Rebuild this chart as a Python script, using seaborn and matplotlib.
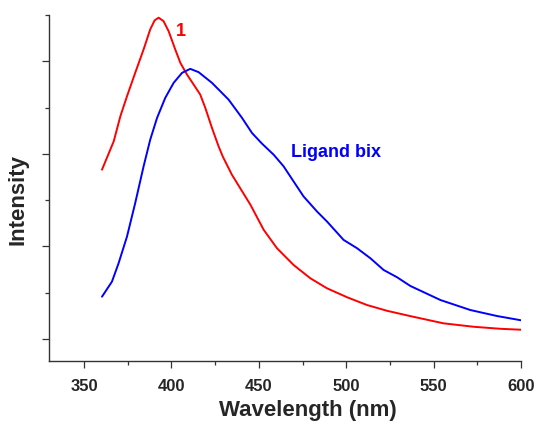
import numpy as np
import pandas as pd
import matplotlib
matplotlib.use("Agg")
import matplotlib.pyplot as plt
from matplotlib.ticker import MultipleLocator, NullFormatter
import seaborn as sns

# Emission spectra (arbitrary intensity units)
wl_complex = [360.3, 367.0, 370.8, 374.6, 379.3, 384.1, 387.9, 390.4, 392.7, 395.5,
              398.4, 402.2, 405.1, 408.9, 412.7, 416.5, 419.4, 423.2, 427.0, 429.4,
              434.6, 445.2, 452.8, 460.4, 469.9, 479.5, 489.0, 500.5, 511.9,
              523.3, 536.7, 555.7, 572.9, 588.2, 600.0]
int_complex = [1.828, 2.134, 2.405, 2.622, 2.875, 3.128, 3.345, 3.442, 3.471, 3.434,
               3.326, 3.128, 2.984, 2.857, 2.749, 2.640, 2.496, 2.280, 2.080, 1.970,
               1.774, 1.449, 1.178, 0.979, 0.798, 0.654, 0.546, 0.449, 0.365,
               0.303, 0.245, 0.167, 0.130, 0.108, 0.098]

wl_ligand = [360.3, 366.0, 369.8, 374.6, 379.3, 384.1, 387.9, 391.8, 396.5, 401.3,
             406.1, 410.8, 415.6, 423.2, 432.7, 440.4, 446.1, 451.8, 458.5, 464.2,
             469.9, 475.6, 483.3, 489.0, 498.5, 506.2, 513.8, 521.4, 529.1, 536.7,
             553.9, 571.0, 586.3, 600.0]
int_ligand = [0.455, 0.618, 0.817, 1.105, 1.467, 1.864, 2.153, 2.388, 2.605, 2.767,
              2.875, 2.918, 2.882, 2.767, 2.586, 2.388, 2.225, 2.110, 1.990, 1.864,
              1.701, 1.539, 1.376, 1.268, 1.069, 0.979, 0.871, 0.744, 0.665, 0.571,
              0.419, 0.311, 0.246, 0.200]

series_names = ["1", "Ligand bix"]
series_colors = ["#ff0000", "#0000ff"]
x_ticks = [350, 400, 450, 500, 550, 600]

df = pd.concat([
    pd.DataFrame({"Wavelength": wl_complex, "Intensity": int_complex, "sample": series_names[0]}),
    pd.DataFrame({"Wavelength": wl_ligand, "Intensity": int_ligand, "sample": series_names[1]}),
], ignore_index=True)

sns.set_style("ticks")
plt.rcParams["font.family"] = ["Liberation Sans", "DejaVu Sans"]
plt.rcParams["font.weight"] = "bold"

fig = plt.figure(figsize=(5.34, 4.23), dpi=100)
ax = fig.add_axes([0.0918, 0.1466, 0.8839, 0.8179])

sns.lineplot(data=df, x="Wavelength", y="Intensity", hue="sample",
             palette=dict(zip(series_names, series_colors)), sort=False,
             estimator=None, linewidth=1.4, legend=False, ax=ax)

ax.set_xlim(330, 600)
ax.set_ylim(-0.24, 3.5)
ax.set_xticks(x_ticks)
ax.xaxis.set_minor_locator(MultipleLocator(25))
ax.yaxis.set_major_locator(MultipleLocator(1.0))
ax.yaxis.set_minor_locator(MultipleLocator(0.5))
ax.yaxis.set_major_formatter(NullFormatter())

for side in ("top", "right"):
    ax.spines[side].set_visible(False)
for side in ("left", "bottom"):
    ax.spines[side].set_color("#333333")
    ax.spines[side].set_linewidth(1.0)

ax.tick_params(axis="both", which="major", direction="out", length=5,
               width=0.9, color="#333333", labelsize=12, pad=8)
ax.tick_params(axis="both", which="minor", direction="out", length=3,
               width=0.9, color="#333333")
for lbl in ax.get_xticklabels():
    lbl.set_fontweight("bold")

ax.set_xlabel("Wavelength (nm)", fontsize=16, fontweight="bold")
ax.set_ylabel("Intensity", fontsize=16, fontweight="bold")
ax.xaxis.set_label_coords(0.548, -0.112)
ax.yaxis.set_label_coords(-0.043, 0.468)

ax.text(402.5, 3.32, series_names[0], color=series_colors[0], fontsize=13,
        fontweight="bold", ha="left", va="center")
ax.text(468.6, 2.01, series_names[1], color=series_colors[1], fontsize=13,
        fontweight="bold", ha="left", va="center")

fig.savefig("out.png", dpi=100)
